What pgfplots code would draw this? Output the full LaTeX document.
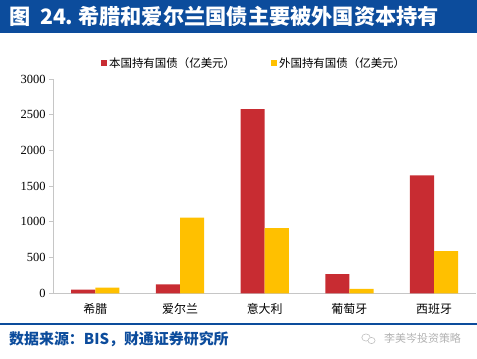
\documentclass[border=0pt]{standalone}
\usepackage{pgfplots}
\pgfplotsset{compat=1.18}
\usepackage{fontspec}
\setmainfont{Liberation Serif}
\newfontfamily\cjk{Noto Sans CJK SC}
\definecolor{titleblue}{RGB}{12,76,156}
\definecolor{barred}{RGB}{200,44,50}
\definecolor{baryellow}{RGB}{255,192,0}
\begin{document}
\begin{tikzpicture}[x=1bp,y=1bp]
\path[use as bounding box] (0,0) rectangle (477,358);
\fill[titleblue] (0,325) rectangle (477,358);
\node[anchor=west, text=white, font=\cjk\bfseries\fontsize{21.3}{24}\selectfont, inner sep=0pt] at (9,341.5) {图\ \ 24.\ 希腊和爱尔兰国债主要被外国资本持有};
\draw[titleblue, line width=1.2bp] (0,34) -- (477,34);
\node[anchor=west, text=titleblue, font=\cjk\bfseries\fontsize{15}{17}\selectfont, inner sep=0pt] at (9,19) {数据来源：BIS，财通证券研究所};
\draw[gray!50, line width=0.6bp] (366,20.5) ellipse (4.2 and 3.6);
\draw[gray!50, line width=0.6bp, fill=white] (371.5,17.5) ellipse (3.6 and 3.1);
\node[anchor=west, text=gray!60, font=\cjk\fontsize{11}{13}\selectfont, inner sep=0pt] at (384,20) {李美岑投资策略};
\begin{axis}[
  at={(53bp,64.7bp)}, anchor=south west,
  scale only axis, width=423.4bp, height=214.3bp,
  xmin=-0.5, xmax=4.5, ymin=0, ymax=3000,
  ybar=0pt, bar width=0.285,
  axis x line*=bottom, axis y line*=left,
  axis line style={draw=gray!45, line width=0.9bp},
  xtick={0,1,2,3,4},
  xticklabels={希腊,爱尔兰,意大利,葡萄牙,西班牙},
  x tick style={draw=none},
  x tick label style={font=\cjk\fontsize{12}{14}\selectfont, yshift=-3bp},
  ytick={0,500,1000,1500,2000,2500,3000},
  y tick style={draw=gray!45, line width=0.8bp},
  tick align=outside, major tick length=4bp,
  y tick label style={font=\fontsize{12.5}{14}\selectfont, /pgf/number format/1000 sep={}},
  /pgf/number format/assume math mode=true,
  legend style={at={(0.475,1.075)}, anchor=center, draw=none, fill=none,
    legend columns=2, font=\cjk\fontsize{11.5}{13}\selectfont,
    /tikz/every even column/.append style={column sep=34bp}},
  legend image code/.code={\fill[#1,draw=none] (0bp,-3bp) rectangle (6bp,3bp);},
]
\addplot[fill=barred, draw=none] coordinates {(0,52) (1,125) (2,2580) (3,268) (4,1650)};
\addlegendentry{本国持有国债（亿美元）}
\addplot[fill=baryellow, draw=none] coordinates {(0,78) (1,1058) (2,912) (3,63) (4,592)};
\addlegendentry{外国持有国债（亿美元）}
\end{axis}
\end{tikzpicture}
\end{document}
